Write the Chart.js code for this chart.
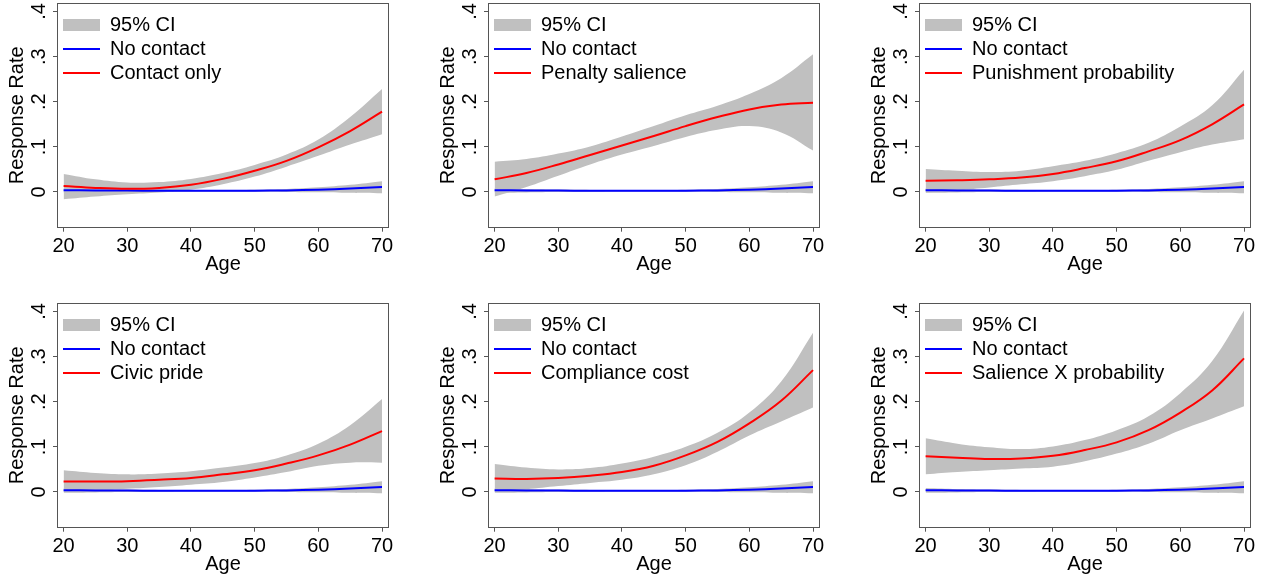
<!DOCTYPE html>
<html>
<head>
<meta charset="utf-8">
<script src="https://cdn.jsdelivr.net/npm/chart.js@4.4.1/dist/chart.umd.min.js"></script>
<style>
html,body{margin:0;padding:0;background:#ffffff;}
#wrap{position:relative;width:1270px;height:577px;overflow:hidden;background:#fff;}
.panel{position:absolute;width:400px;height:280px;}
canvas{display:block;}
</style>
</head>
<body>
<div id="wrap"></div>
<script>
// ---------- data ----------
const ages = [20, 25, 30, 35, 40, 45, 50, 55, 60, 65, 70];
const xTickValues = [20, 30, 40, 50, 60, 70];
const xTickLabels = ['20', '30', '40', '50', '60', '70'];
const yTickValues = [0, 0.1, 0.2, 0.3, 0.4];
const yTickLabels = ['0', '.1', '.2', '.3', '.4'];

const ciLabel = '95% CI';
const baseLabel = 'No contact';
const treatmentLabels = ['Contact only', 'Penalty salience', 'Punishment probability',
                         'Civic pride', 'Compliance cost', 'Salience X probability'];

const noContact      = [0.004, 0.0035, 0.003, 0.0027, 0.0025, 0.0025, 0.0028, 0.0035, 0.005, 0.0075, 0.011];
const noContactUpper = [0.009, 0.0065, 0.0052, 0.0045, 0.0042, 0.0043, 0.005, 0.0068, 0.0105, 0.016, 0.024];
const noContactLower = [-0.002, -0.001, -0.0003, 0.0, 0.0005, 0.0006, 0.0005, 0.0001, -0.0008, -0.002, -0.003];

const contactOnly      = [0.013, 0.009, 0.007, 0.009, 0.016, 0.029, 0.047, 0.069, 0.099, 0.135, 0.178];
const contactOnlyUpper = [0.040, 0.028, 0.021, 0.022, 0.029, 0.042, 0.060, 0.083, 0.116, 0.166, 0.228];
const contactOnlyLower = [-0.016, -0.010, -0.005, -0.001, 0.005, 0.017, 0.034, 0.056, 0.080, 0.105, 0.128];

const penaltySalience      = [0.028, 0.042, 0.061, 0.082, 0.103, 0.124, 0.146, 0.166, 0.183, 0.194, 0.198];
const penaltySalienceUpper = [0.067, 0.073, 0.085, 0.101, 0.123, 0.146, 0.170, 0.191, 0.217, 0.252, 0.305];
const penaltySalienceLower = [-0.010, 0.011, 0.036, 0.061, 0.083, 0.102, 0.122, 0.138, 0.146, 0.132, 0.092];

const punishmentProb      = [0.025, 0.026, 0.028, 0.032, 0.040, 0.053, 0.068, 0.090, 0.115, 0.150, 0.194];
const punishmentProbUpper = [0.051, 0.047, 0.044, 0.047, 0.057, 0.069, 0.086, 0.109, 0.145, 0.192, 0.271];
const punishmentProbLower = [-0.001, 0.004, 0.010, 0.017, 0.024, 0.035, 0.049, 0.069, 0.088, 0.105, 0.117];

const civicPride      = [0.023, 0.023, 0.024, 0.027, 0.031, 0.039, 0.048, 0.063, 0.081, 0.105, 0.135];
const civicPrideUpper = [0.048, 0.042, 0.039, 0.041, 0.046, 0.054, 0.064, 0.081, 0.107, 0.148, 0.206];
const civicPrideLower = [0.000, 0.004, 0.007, 0.011, 0.016, 0.022, 0.032, 0.044, 0.058, 0.065, 0.065];

const complianceCost      = [0.030, 0.029, 0.031, 0.036, 0.044, 0.058, 0.081, 0.111, 0.152, 0.202, 0.270];
const complianceCostUpper = [0.062, 0.054, 0.050, 0.053, 0.063, 0.078, 0.100, 0.131, 0.176, 0.245, 0.353];
const complianceCostLower = [0.001, 0.006, 0.013, 0.020, 0.027, 0.039, 0.059, 0.089, 0.125, 0.156, 0.187];

const salienceXProb      = [0.079, 0.076, 0.073, 0.074, 0.080, 0.093, 0.110, 0.137, 0.176, 0.225, 0.296];
const salienceXProbUpper = [0.119, 0.107, 0.099, 0.095, 0.101, 0.115, 0.137, 0.168, 0.219, 0.290, 0.402];
const salienceXProbLower = [0.039, 0.044, 0.048, 0.052, 0.056, 0.068, 0.085, 0.107, 0.137, 0.163, 0.190];

// ---------- styling / layout ----------
const ciColor = '#c0c0c0';
const blue = '#0000ff';
const red = '#ff0000';
const frameColor = '#555555';
const FONT = '"Liberation Sans", Arial, Helvetica, sans-serif';

const panels = [
  { label: treatmentLabels[0], mid: contactOnly, up: contactOnlyUpper, lo: contactOnlyLower },
  { label: treatmentLabels[1], mid: penaltySalience, up: penaltySalienceUpper, lo: penaltySalienceLower },
  { label: treatmentLabels[2], mid: punishmentProb, up: punishmentProbUpper, lo: punishmentProbLower },
  { label: treatmentLabels[3], mid: civicPride, up: civicPrideUpper, lo: civicPrideLower },
  { label: treatmentLabels[4], mid: complianceCost, up: complianceCostUpper, lo: complianceCostLower },
  { label: treatmentLabels[5], mid: salienceXProb, up: salienceXProbUpper, lo: salienceXProbLower }
];
const positions = [[0, 0], [431, 0], [862, 0], [0, 300], [431, 300], [862, 300]];

Chart.defaults.font.family = FONT;

const framePlugin = {
  id: 'frame',
  afterDraw(chart) {
    const a = chart.chartArea, ctx = chart.ctx;
    ctx.save();
    ctx.strokeStyle = frameColor;
    ctx.lineWidth = 1;
    ctx.strokeRect(Math.round(a.left) - 0.5, Math.round(a.top) - 0.5,
                   Math.round(a.right) - Math.round(a.left) + 1, Math.round(a.bottom) - Math.round(a.top) + 1);
    ctx.restore();
  }
};
const legendShift = {
  id: 'legendShift',
  afterLayout(chart) {
    if (chart.legend) { chart.legend.left += 1; chart.legend.top += 11; }
  }
};

function pts(arr) { return ages.map((a, i) => ({ x: a, y: arr[i] })); }
function band(arr, fill) {
  return { data: pts(arr), borderWidth: 0, borderColor: 'rgba(0,0,0,0)', backgroundColor: ciColor,
           pointRadius: 0, fill: fill, tension: 0.4, order: 2 };
}

const wrap = document.getElementById('wrap');
panels.forEach((p, k) => {
  const div = document.createElement('div');
  div.className = 'panel';
  div.style.left = positions[k][0] + 'px';
  div.style.top = positions[k][1] + 'px';
  const cv = document.createElement('canvas');
  cv.width = 400; cv.height = 280;
  div.appendChild(cv);
  wrap.appendChild(div);

  new Chart(cv, {
    type: 'line',
    data: {
      datasets: [
        band(noContactUpper, '+1'),
        band(noContactLower, false),
        band(p.up, '+1'),
        band(p.lo, false),
        { data: pts(noContact), borderColor: blue, borderWidth: 2, pointRadius: 0, fill: false,
          tension: 0.4, order: 1 },
        { data: pts(p.mid), borderColor: red, borderWidth: 2, pointRadius: 0, fill: false,
          tension: 0.4, order: 0 }
      ]
    },
    options: {
      responsive: false,
      animation: false,
      devicePixelRatio: 1,
      events: [],
      layout: { padding: { top: 4, right: 12, bottom: 3.8, left: 0 } },
      plugins: {
        filler: { drawTime: 'beforeDatasetsDraw' },
        tooltip: { enabled: false },
        legend: {
          position: 'chartArea',
          align: 'start',
          labels: {
            usePointStyle: true,
            pointStyleWidth: 37,
            boxHeight: 12,
            padding: 4,
            color: '#000',
            font: { size: 20 },
            generateLabels: () => [
              { text: ciLabel, fillStyle: ciColor, strokeStyle: ciColor, lineWidth: 0, pointStyle: 'rect', hidden: false },
              { text: baseLabel, fillStyle: blue, strokeStyle: blue, lineWidth: 2, pointStyle: 'line', hidden: false },
              { text: p.label, fillStyle: red, strokeStyle: red, lineWidth: 2, pointStyle: 'line', hidden: false }
            ]
          }
        }
      },
      scales: {
        x: {
          type: 'linear', min: 19.12, max: 70.94,
          afterBuildTicks: s => { s.ticks = xTickValues.map(v => ({ value: v })); },
          afterFit: s => { s.height = 49.5; s.paddingLeft = 0; s.paddingRight = 0; },
          grid: { drawOnChartArea: false, drawTicks: true, tickLength: 5, tickColor: frameColor },
          border: { display: false },
          ticks: { color: '#000', font: { size: 20 }, padding: 3, maxRotation: 0, minRotation: 0,
                   callback: (v, i) => xTickLabels[i] },
          title: { display: true, text: 'Age', color: '#000', font: { size: 20 }, padding: { top: 0, bottom: 0 } }
        },
        y: {
          type: 'linear', min: -0.077, max: 0.4166,
          afterBuildTicks: s => { s.ticks = yTickValues.map(v => ({ value: v })); },
          afterFit: s => { s.width = 58; s.paddingTop = 0; s.paddingBottom = 0; },
          grid: { drawOnChartArea: false, drawTicks: true, tickLength: 5, tickColor: frameColor },
          border: { display: false },
          ticks: { color: '#000', font: { size: 20 }, padding: 5, minRotation: 90, maxRotation: 90,
                   crossAlign: 'center', callback: (v, i) => yTickLabels[i] },
          title: { display: true, text: 'Response Rate', color: '#000', font: { size: 20 }, padding: { top: 5, bottom: 0 } }
        }
      }
    },
    plugins: [framePlugin, legendShift]
  });
});
</script>
</body>
</html>
